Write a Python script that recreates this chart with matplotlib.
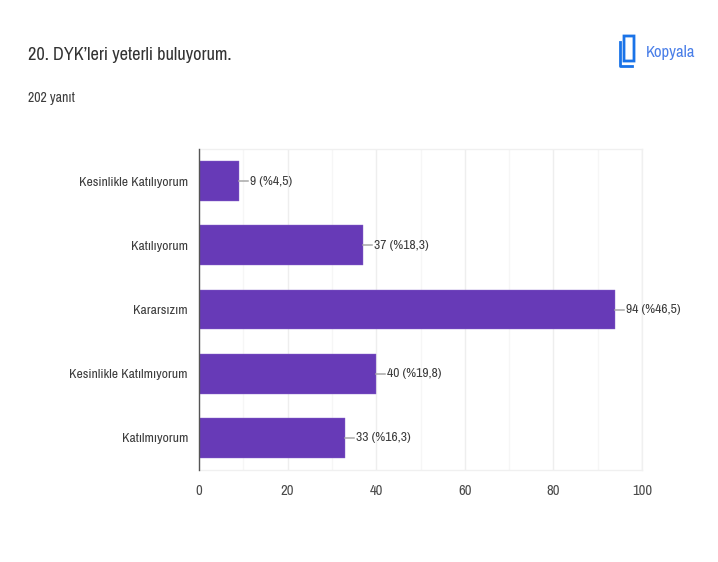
import matplotlib

matplotlib.use("Agg")
import matplotlib.pyplot as plt
from matplotlib.patches import FancyBboxPatch
from matplotlib.lines import Line2D

categories = [
    "Kesinlikle Katılıyorum",
    "Katılıyorum",
    "Kararsızım",
    "Kesinlikle Katılmıyorum",
    "Katılmıyorum",
]
counts = [9, 37, 94, 40, 33]
percents = ["4,5", "18,3", "46,5", "19,8", "16,3"]
xticks = [0, 20, 40, 60, 80, 100]
minor_xticks = [10, 30, 50, 70, 90]

W, H = 718, 562
plt.rcParams["font.family"] = ["Archivo Narrow", "Roboto Condensed", "Roboto", "DejaVu Sans"]

fig = plt.figure(figsize=(W / 100, H / 100), dpi=100, facecolor="white")
ax = fig.add_axes([199 / W, 1 - 470 / H, (642 - 199) / W, (470 - 149) / H])

ypos = list(range(len(categories)))
ax.barh(ypos, counts, height=0.62, color="#673ab7", edgecolor="#8a66cb", linewidth=0.3, zorder=3)
ax.set_xlim(0, 100)
ax.set_ylim(len(categories) - 0.5, -0.5)

ax.set_yticks(ypos, categories)
ax.set_xticks(xticks)
ax.set_xticks(minor_xticks, minor=True)
ax.tick_params(axis="both", which="both", length=0)
ax.tick_params(axis="y", pad=8, labelsize=9.8, labelcolor="#3c3c3c")
ax.tick_params(axis="x", pad=10, labelsize=10.5, labelcolor="#4a4a4a")
ax.grid(axis="x", which="major", color="#eeeeee", linewidth=1, zorder=0)
ax.grid(axis="x", which="minor", color="#f6f6f6", linewidth=1, zorder=0)

for s in ["top", "right", "bottom"]:
    ax.spines[s].set_color("#f0f0f0")
    ax.spines[s].set_linewidth(1)
ax.spines["left"].set_color("#555555")
ax.spines["left"].set_linewidth(1)
ax.spines["left"].set_zorder(4)

# leader line + label next to each bar
for y, c, p in zip(ypos, counts, percents):
    ax.plot([c, c + 2.0], [y, y], color="#a8a8a8", linewidth=1.1, zorder=3, clip_on=False)
    ax.text(c + 2.5, y, "{} (%{})".format(c, p), va="center", ha="left", fontsize=9.8, color="#3c3c3c", zorder=5)

fig.text(28 / W, 1 - 55 / H, "20. DYK’leri yeterli buluyorum.", fontsize=13.2, color="#333333", va="center", ha="left")
fig.text(28 / W, 1 - 98 / H, "202 yanıt", fontsize=10, color="#3c3c3c", va="center", ha="left")
fig.text(646 / W, 1 - 52 / H, "Kopyala", fontsize=12, color="#4a7fe8", va="center", ha="left")

# copy icon
blue = "#1a73e8"
fig.add_artist(FancyBboxPatch((624 / W, 1 - 61 / H), 10 / W, 25 / H, boxstyle="round,pad=0", transform=fig.transFigure,
                              fill=False, edgecolor=blue, linewidth=2))
fig.add_artist(Line2D([620 / W, 620 / W, 632 / W], [1 - 42 / H, 1 - 66 / H, 1 - 66 / H], transform=fig.transFigure,
                      color=blue, linewidth=2))

fig.savefig("out.png", dpi=100)
